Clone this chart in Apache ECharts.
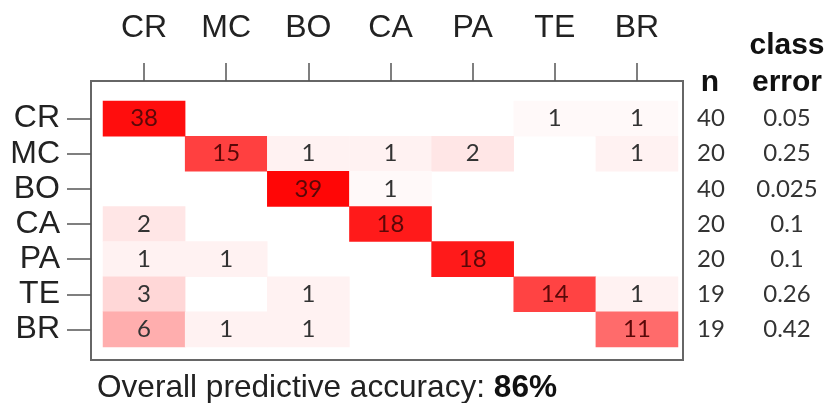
<!DOCTYPE html>
<html>
<head>
<meta charset="utf-8">
<script src="https://cdn.jsdelivr.net/npm/echarts@6/dist/echarts.min.js"></script>
<style>html,body{margin:0;padding:0;background:#fff}#c{width:836px;height:403px}</style>
</head>
<body>
<div id="c"></div>
<script>
// ---- data ----
var classes = ['CR', 'MC', 'BO', 'CA', 'PA', 'TE', 'BR'];
// rows = true class, columns = predicted class
var rowCR = [38, 0, 0, 0, 0, 1, 1];
var rowMC = [0, 15, 1, 1, 2, 0, 1];
var rowBO = [0, 0, 39, 1, 0, 0, 0];
var rowCA = [2, 0, 0, 18, 0, 0, 0];
var rowPA = [1, 1, 0, 0, 18, 0, 0];
var rowTE = [3, 0, 1, 0, 0, 14, 1];
var rowBR = [6, 1, 1, 0, 0, 0, 11];
var nValues = ['40', '20', '40', '20', '20', '19', '19'];
var classError = ['0.05', '0.25', '0.025', '0.1', '0.1', '0.26', '0.42'];
var accuracyText = '86%';

var matrix = [rowCR, rowMC, rowBO, rowCA, rowPA, rowTE, rowBR];
var cells = [];
matrix.forEach(function (row, r) {
  var n = parseFloat(nValues[r]);
  row.forEach(function (v, c) {
    if (v > 0) {
      var frac = v / n;
      cells.push({
        value: [c, r, v, frac],
        label: { color: frac > 0.5 ? '#5a0808' : '#333333' }
      });
    }
  });
});

var labelFont = 'Liberation Sans, Arial, sans-serif';
var numFont = 'Lato, Carlito, Calibri, sans-serif';

var chart = echarts.init(document.getElementById('c'), null, { renderer: 'canvas' });
chart.setOption({
  animation: false,
  backgroundColor: '#ffffff',
  grid: [
    { left: 91, top: 81, width: 592, height: 279, show: true, borderColor: '#666', borderWidth: 2, backgroundColor: '#fff', z: 0 },
    { left: 103, top: 101, width: 575, height: 246 }
  ],
  xAxis: [
    { gridIndex: 0, type: 'category', data: classes, show: false },
    {
      gridIndex: 1, type: 'category', data: classes, position: 'top', offset: 20,
      axisLine: { show: false },
      axisTick: { show: true, alignWithLabel: true, length: 18, lineStyle: { color: '#555', width: 1.5 } },
      axisLabel: { fontSize: 32, fontFamily: labelFont, color: '#222', margin: 37, interval: 0 },
      splitLine: { show: false }
    }
  ],
  yAxis: [
    { gridIndex: 0, type: 'category', data: classes, show: false },
    {
      gridIndex: 1, type: 'category', data: classes, inverse: true, position: 'left', offset: 12,
      axisLine: { show: false },
      axisTick: { show: true, alignWithLabel: true, length: 24, lineStyle: { color: '#555', width: 1.5 } },
      axisLabel: { fontSize: 32, fontFamily: labelFont, color: '#222', margin: 31, interval: 0 },
      splitLine: { show: false }
    },
    {
      gridIndex: 1, type: 'category', data: nValues, inverse: true, position: 'right', offset: 0,
      axisLine: { show: false }, axisTick: { show: false },
      axisLabel: { fontSize: 24, fontFamily: numFont, color: '#333', margin: 19, interval: 0, align: 'left' },
      splitLine: { show: false }
    },
    {
      gridIndex: 1, type: 'category', data: classError, inverse: true, position: 'right', offset: 0,
      axisLine: { show: false }, axisTick: { show: false },
      axisLabel: { fontSize: 24, fontFamily: numFont, color: '#333', margin: 109, interval: 0, align: 'center' },
      splitLine: { show: false }
    }
  ],
  visualMap: {
    show: false, type: 'continuous', dimension: 3, min: 0, max: 1,
    seriesIndex: 0,
    inRange: { color: ['#ffffff', '#ff0000'] }
  },
  series: [{
    type: 'heatmap',
    xAxisIndex: 1, yAxisIndex: 1,
    data: cells,
    label: {
      show: true, fontSize: 24, fontFamily: numFont,
      formatter: function (p) { return p.value[2]; }
    },
    itemStyle: { borderWidth: 0 },
    emphasis: { disabled: true }
  }],
  graphic: [
    { type: 'text', x: 787, y: 46, style: { text: 'class', fill: '#111', font: 'bold 30px ' + labelFont, align: 'center', verticalAlign: 'middle' } },
    { type: 'text', x: 787, y: 83, style: { text: 'error', fill: '#111', font: 'bold 30px ' + labelFont, align: 'center', verticalAlign: 'middle' } },
    { type: 'text', x: 710, y: 83, style: { text: 'n', fill: '#111', font: 'bold 30px ' + labelFont, align: 'center', verticalAlign: 'middle' } },
    {
      type: 'text', x: 97, y: 388,
      style: {
        text: 'Overall predictive accuracy: {b|' + accuracyText + '}',
        fill: '#222', font: '31.6px ' + labelFont, verticalAlign: 'middle', align: 'left',
        rich: { b: { fontWeight: 'bold', fontSize: 31.6, fontFamily: labelFont, fill: '#111' } }
      }
    }
  ]
});
</script>
</body>
</html>
